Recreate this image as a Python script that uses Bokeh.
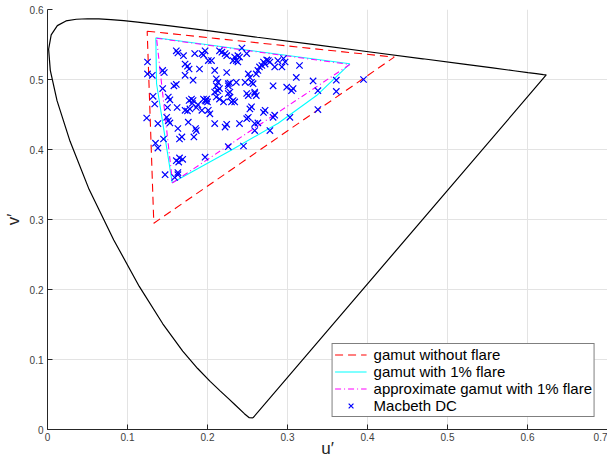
from bokeh.plotting import figure
from bokeh.models import Range1d, FixedTicker, Legend, LegendItem
from bokeh.embed import file_html
from bokeh.resources import INLINE

# CIE 1976 spectrum locus (u', v'), 380 nm ... 700 nm, closed by the purple line
locus_u = [0.2568, 0.2522, 0.2461, 0.2347, 0.2266, 0.2161, 0.2033, 0.1877, 0.1690,
           0.1441, 0.1147, 0.0828, 0.0521, 0.0282, 0.0119, 0.0035, 0.0014, 0.0046,
           0.0123, 0.0231, 0.0360, 0.0501, 0.0643, 0.0792, 0.0953, 0.1127, 0.1531,
           0.2026, 0.2623, 0.3315, 0.4035, 0.4692, 0.5203, 0.5565, 0.5830, 0.6005,
           0.6109, 0.6199, 0.6234, 0.2568]
locus_v = [0.0166, 0.0169, 0.0226, 0.0350, 0.0437, 0.0549, 0.0688, 0.0871, 0.1119,
           0.1510, 0.2044, 0.2708, 0.3427, 0.4117, 0.4698, 0.5131, 0.5432, 0.5638,
           0.5770, 0.5837, 0.5861, 0.5868, 0.5865, 0.5856, 0.5841, 0.5821, 0.5766,
           0.5694, 0.5604, 0.5501, 0.5393, 0.5296, 0.5219, 0.5165, 0.5125, 0.5099,
           0.5084, 0.5070, 0.5065, 0.0166]

# gamut without flare
noflare_u = [0.1246, 0.4334, 0.1329, 0.1246]
noflare_v = [0.5690, 0.5319, 0.2947, 0.5690]

# gamut with 1% flare
flare_u = [0.1354, 0.3779, 0.3363, 0.2884, 0.2300, 0.1559, 0.1363, 0.1354]
flare_v = [0.5596, 0.5224, 0.4771, 0.4376, 0.3993, 0.3524, 0.4943, 0.5596]

# approximate gamut with 1% flare
approx_u = [0.1363, 0.3779, 0.1563, 0.1363]
approx_v = [0.5590, 0.5214, 0.3524, 0.5590]

# Macbeth DC chart chromaticities
macbeth_u = [0.125, 0.125, 0.131, 0.132, 0.134, 0.124, 0.138, 0.135, 0.145, 0.147,
             0.163, 0.161, 0.165, 0.164, 0.144, 0.146, 0.144, 0.151, 0.153, 0.150,
             0.149, 0.151, 0.153, 0.163, 0.165, 0.168, 0.158, 0.161, 0.162, 0.172,
             0.176, 0.177, 0.180, 0.182, 0.181, 0.185, 0.186, 0.183, 0.195, 0.197,
             0.199, 0.198, 0.200, 0.201, 0.203, 0.209, 0.222, 0.224, 0.226, 0.245,
             0.197, 0.161, 0.163, 0.170, 0.172, 0.175, 0.177, 0.172, 0.182, 0.184,
             0.190, 0.193, 0.197, 0.195, 0.201, 0.205, 0.209, 0.211, 0.213, 0.211,
             0.213, 0.215, 0.209, 0.211, 0.215, 0.218, 0.222, 0.224, 0.224, 0.226,
             0.228, 0.230, 0.232, 0.234, 0.226, 0.228, 0.226, 0.228, 0.236, 0.238,
             0.240, 0.243, 0.236, 0.238, 0.249, 0.251, 0.253, 0.255, 0.257, 0.247,
             0.249, 0.251, 0.253, 0.255, 0.259, 0.261, 0.263, 0.265, 0.268, 0.270,
             0.272, 0.274, 0.276, 0.278, 0.282, 0.284, 0.288, 0.293, 0.295, 0.297,
             0.299, 0.305, 0.307, 0.311, 0.315, 0.332, 0.338, 0.338, 0.361, 0.361,
             0.395, 0.303, 0.282, 0.284, 0.259, 0.263, 0.270, 0.272, 0.278, 0.259,
             0.251, 0.249, 0.240, 0.259, 0.261, 0.234, 0.232, 0.215, 0.220, 0.193,
             0.188, 0.186, 0.178, 0.175, 0.138, 0.169, 0.159, 0.163]
macbeth_v = [0.525, 0.508, 0.506, 0.476, 0.465, 0.445, 0.437, 0.409, 0.415, 0.364,
             0.364, 0.384, 0.388, 0.382, 0.513, 0.510, 0.487, 0.475, 0.471, 0.460,
             0.446, 0.441, 0.438, 0.430, 0.415, 0.418, 0.491, 0.493, 0.460, 0.456,
             0.439, 0.470, 0.472, 0.470, 0.466, 0.430, 0.427, 0.418, 0.472, 0.470,
             0.472, 0.469, 0.468, 0.456, 0.451, 0.437, 0.432, 0.436, 0.404, 0.405,
             0.389, 0.541, 0.538, 0.534, 0.522, 0.519, 0.515, 0.506, 0.499, 0.537,
             0.515, 0.537, 0.541, 0.535, 0.527, 0.527, 0.513, 0.501, 0.496, 0.491,
             0.484, 0.487, 0.482, 0.475, 0.541, 0.539, 0.537, 0.534, 0.510, 0.494,
             0.475, 0.468, 0.470, 0.468, 0.480, 0.482, 0.491, 0.495, 0.496, 0.534,
             0.532, 0.545, 0.527, 0.525, 0.537, 0.508, 0.503, 0.496, 0.494, 0.496,
             0.480, 0.477, 0.458, 0.461, 0.482, 0.508, 0.513, 0.518, 0.520, 0.525,
             0.522, 0.528, 0.527, 0.525, 0.491, 0.518, 0.527, 0.518, 0.530, 0.525,
             0.489, 0.484, 0.487, 0.503, 0.520, 0.498, 0.484, 0.457, 0.499, 0.483,
             0.500, 0.446, 0.446, 0.449, 0.437, 0.438, 0.453, 0.456, 0.427, 0.427,
             0.446, 0.444, 0.437, 0.480, 0.477, 0.532, 0.527, 0.472, 0.468, 0.456,
             0.464, 0.460, 0.458, 0.455, 0.402, 0.386, 0.360, 0.367]

x_ticks = [0, 0.1, 0.2, 0.3, 0.4, 0.5, 0.6, 0.7]
x_ticklabels = ["0", "0.1", "0.2", "0.3", "0.4", "0.5", "0.6", "0.7"]
y_ticks = [0, 0.1, 0.2, 0.3, 0.4, 0.5, 0.6]
y_ticklabels = ["0", "0.1", "0.2", "0.3", "0.4", "0.5", "0.6"]

FONT = "Liberation Sans"

p = figure(frame_width=560, frame_height=420, output_backend="svg",
           toolbar_location=None,
           x_range=Range1d(0, 0.7), y_range=Range1d(0, 0.6),
           min_border_left=46, min_border_top=9, min_border_right=0,
           min_border_bottom=0)
p.outline_line_color = None
p.background_fill_color = "white"

p.line(locus_u, locus_v, line_color="black", line_width=1.2)
r_nf = p.line(noflare_u, noflare_v, line_color="#ff0000", line_width=1.1,
              line_dash="8 5")
r_fl = p.line(flare_u, flare_v, line_color="#00ffff", line_width=1.1)
r_ap = p.line(approx_u, approx_v, line_color="#ff00ff", line_width=1.1,
              line_dash="6 3 1 3")
r_mb = p.scatter(macbeth_u, macbeth_v, marker="x", size=9, line_color="#0000ff",
                 line_width=1.2)

for ax, ticks, labels in ((p.xaxis, x_ticks, x_ticklabels),
                          (p.yaxis, y_ticks, y_ticklabels)):
    ax.ticker = FixedTicker(ticks=ticks)
    ax.major_label_overrides = {t: l for t, l in zip(ticks, labels)}
    ax.minor_tick_line_color = None
    ax.major_tick_in = 5
    ax.major_tick_out = 0
    ax.axis_line_color = "#262626"
    ax.major_tick_line_color = "#262626"
    ax.major_label_text_font = FONT
    ax.major_label_text_font_size = "10px"
    ax.major_label_text_color = "#404040"
    ax.axis_label_text_font = FONT
    ax.axis_label_text_font_size = "17px"
    ax.axis_label_text_font_style = "normal"
    ax.axis_label_text_color = "#262626"

p.xaxis.axis_label = "u\u2032"
p.yaxis.axis_label = "v\u2032"
p.xaxis.major_label_standoff = 3
p.xaxis.axis_label_standoff = -5
p.yaxis.major_label_standoff = 4
p.yaxis.axis_label_standoff = 4

p.grid.grid_line_color = "#e3e3e3"
p.grid.grid_line_width = 1

legend = Legend(items=[
    LegendItem(label="gamut without flare", renderers=[r_nf]),
    LegendItem(label="gamut with 1% flare", renderers=[r_fl]),
    LegendItem(label="approximate gamut with 1% flare", renderers=[r_ap]),
    LegendItem(label="Macbeth DC", renderers=[r_mb]),
])
legend.location = "bottom_right"
legend.margin = 12
legend.padding = 2
legend.spacing = 0
legend.glyph_width = 32
legend.glyph_height = 17
legend.label_height = 17
legend.label_standoff = 7
legend.label_text_font = FONT
legend.label_text_font_size = "15px"
legend.label_text_color = "black"
legend.border_line_color = "black"
legend.border_line_width = 1
legend.background_fill_color = "white"
legend.background_fill_alpha = 1
p.add_layout(legend)

open("out.html", "w").write(file_html(p, INLINE))
